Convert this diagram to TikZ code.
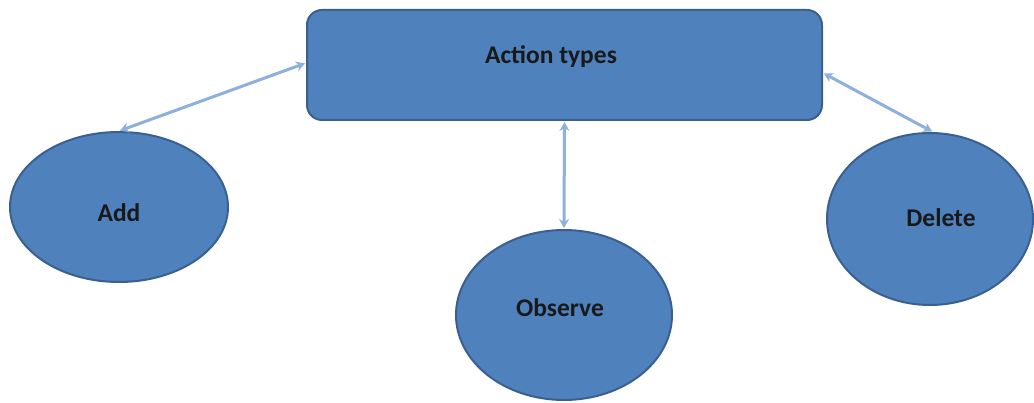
\documentclass[tikz,border=0pt]{standalone}
\usepackage{fontspec}
\setmainfont{Carlito}
\usetikzlibrary{shapes.geometric,arrows.meta}
\definecolor{boxfill}{HTML}{4F81BD}
\definecolor{boxline}{HTML}{3A6091}
\definecolor{linkcol}{HTML}{8DB0DC}
\begin{document}
\begin{tikzpicture}[x=1pt,y=-1pt,
  shapebase/.style={fill=boxfill,draw=boxline,line width=2pt,inner sep=0pt},
  typebox/.style={shapebase,rectangle,rounded corners=15pt,minimum width=515pt,minimum height=110pt},
  actoval/.style={shapebase,ellipse},
  caption/.style={font=\fontsize{25.5}{30}\selectfont\bfseries,text=black!90},
  link/.style={draw=linkcol,line width=3pt,{Stealth[length=9pt,width=10pt]}-{Stealth[length=9pt,width=10pt]},shorten <=1pt,shorten >=1pt}]
\useasboundingbox (0,0) rectangle (1034,403);
% central box and the three action ellipses
\node[typebox] (act) at (564.5,65) {};
\node[caption] (actlbl) at (551,57) {Action types};
\node[actoval,minimum width=218pt,minimum height=150pt] (add) at (119,207) {};
\node[caption] (addlbl) at (119,213) {Add};
\node[actoval,minimum width=216pt,minimum height=170pt] (obs) at (564,315) {};
\node[caption] (obslbl) at (560,308) {Observe};
\node[actoval,minimum width=206pt,minimum height=172pt] (del) at (930,219) {};
\node[caption] (dellbl) at (941,218) {Delete};
% two-way links
\draw[link] ([yshift=2pt]act.west) -- (add.north);
\draw[link] (act.south) -- (obs.north);
\draw[link] ([yshift=-8pt]act.east) -- ([xshift=3pt]del.north);
\end{tikzpicture}
\end{document}
